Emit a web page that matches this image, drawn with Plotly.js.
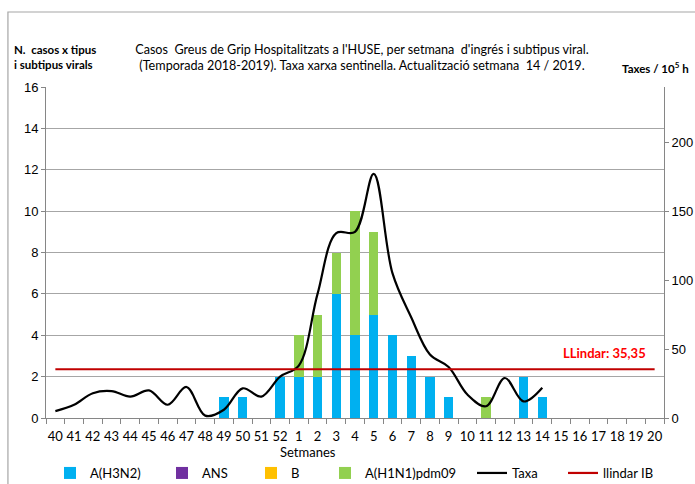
<!DOCTYPE html>
<html>
<head>
<meta charset="utf-8">
<script src="https://cdn.plot.ly/plotly-3.0.1.min.js"></script>
<style>html,body{margin:0;padding:0;background:#fff}#chart{width:695px;height:484px}</style>
</head>
<body>
<div id="chart"></div>
<script>
// ---- data ----
const weeks = ["40","41","42","43","44","45","46","47","48","49","50","51","52",
  "1","2","3","4","5","6","7","8","9","10","11","12","13","14","15","16","17","18","19","20"];
const h3n2 = [0,0,0,0,0,0,0,0,0,1,1,0,2, 2,2,6,4,5,4,3,2,1,0,0,0,2,1,0,0,0,0,0,0];
const ans  = [0,0,0,0,0,0,0,0,0,0,0,0,0, 0,0,0,0,0,0,0,0,0,0,0,0,0,0,0,0,0,0,0,0];
const bVir = [0,0,0,0,0,0,0,0,0,0,0,0,0, 0,0,0,0,0,0,0,0,0,0,0,0,0,0,0,0,0,0,0,0];
const h1n1 = [0,0,0,0,0,0,0,0,0,0,0,0,0, 2,3,2,6,4,0,0,0,0,0,1,0,0,0,0,0,0,0,0,0];
const taxaWeeks = weeks.slice(0, 27);
const taxa = [5,9.6,18,19.5,15.5,20,9.6,22.5,1.7,6,21.5,15.5,30,
  38,90,134,135,177,105,73,46,37,17,8.5,29,12,22];
const llindarValue = 35.35;
const llindar = weeks.map(() => llindarValue);
const seriesNames = ["A(H3N2)","ANS","B","A(H1N1)pdm09","Taxa","llindar IB"];

// ---- styling ----
const NARROW = 'Lato, "Liberation Sans", sans-serif';
const ARIAL = '"Liberation Sans", Arial, sans-serif';
const W = 695, H = 484;
const legX = [90, 202, 291, 365, 512, 603]; // text start px
const legFont = {family: NARROW, size: 13, color: '#000'};
function legendAt(i){
  return {x: (legX[i]-40)/W, xref:'container', y: 1-473/H, yref:'container',
    xanchor:'left', yanchor:'middle', orientation:'h', bgcolor:'rgba(0,0,0,0)',
    borderwidth:0, font: legFont};
}
const legNames = ['legend','legend2','legend3','legend4','legend5','legend6'];

const traces = [
  {type:'bar', name:seriesNames[0], x:weeks, y:h3n2, marker:{color:'#00B0F0'}, legend:legNames[0]},
  {type:'bar', name:seriesNames[1], x:weeks, y:ans, marker:{color:'#7030A0'}, legend:legNames[1]},
  {type:'bar', name:seriesNames[2], x:weeks, y:bVir, marker:{color:'#FFC000'}, legend:legNames[2]},
  {type:'bar', name:seriesNames[3], x:weeks, y:h1n1, marker:{color:'#92D050'}, legend:legNames[3]},
  {type:'scatter', mode:'lines', name:seriesNames[4], x:taxaWeeks, y:taxa, yaxis:'y2',
    line:{color:'#000', width:2.2, shape:'spline', smoothing:1}, legend:legNames[4]},
  {type:'scatter', mode:'lines', name:seriesNames[5], x:weeks, y:llindar, yaxis:'y2',
    line:{color:'#C00000', width:2.2}, legend:legNames[5]}
];

const layout = {
  width: W, height: H,
  margin: {l:46, r:31, t:87, b:66},
  paper_bgcolor:'#fff', plot_bgcolor:'#fff',
  barmode:'stack', bargap:0.5,
  title: {text:"Casos  Greus de Grip Hospitalitzats a l'HUSE, per setmana  d'ingrés i subtipus viral.<br>(Temporada 2018-2019). Taxa xarxa sentinella. Actualització setmana  14 / 2019.",
    x: 362/W, xanchor:'center', xref:'container', y: 1-54/H, yanchor:'middle', yref:'container',
    font:{family: NARROW, size:12.6, color:'#000'}},
  xaxis: {type:'category', categoryorder:'array', categoryarray:weeks, tickangle:0,
    showline:true, linecolor:'#868686', linewidth:1, ticks:'outside', tickson:'boundaries',
    ticklen:5, tickcolor:'#868686', tickfont:{family:NARROW, size:13, color:'#000'},
    ticklabelstandoff:6,
    showgrid:false, zeroline:false, fixedrange:true},
  yaxis: {range:[0,16], dtick:2, tick0:0, showline:true, linecolor:'#868686', ticks:'outside',
    ticklen:4, tickcolor:'#868686', gridcolor:'#a6a6a6', gridwidth:1, zeroline:false,
    tickfont:{family:ARIAL, size:13, color:'#000'}},
  yaxis2: {range:[0,240], dtick:50, tick0:0, overlaying:'y', side:'right', showline:true,
    linecolor:'#868686', ticks:'outside', ticklen:4, tickcolor:'#868686', showgrid:false,
    zeroline:false, tickfont:{family:ARIAL, size:13, color:'#000'}},
  annotations: [
    {text:'Setmanes', xref:'paper', yref:'paper',
      x:(308-46)/617, y:(418-452)/331, xanchor:'center', yanchor:'middle', showarrow:false,
      font:{family:NARROW, size:13, color:'#000'}},
    {text:'N.  casos x tipus<br>i subtipus virals', xref:'paper', yref:'paper',
      x:(12-46)/617, y:(418-57)/331, xanchor:'left', yanchor:'middle', align:'left', showarrow:false,
      font:{family:NARROW, size:11.5, color:'#000', weight:'bold'}},
    {text:'Taxes / 10<sup>5</sup> h', xref:'paper', yref:'paper',
      x:(690-46)/617, y:(418-68)/331, xanchor:'right', yanchor:'middle', showarrow:false,
      font:{family:NARROW, size:11.5, color:'#000', weight:'bold'}},
    {text:'LLindar: 35,35', xref:'paper', yref:'paper',
      x:(604-46)/617, y:(418-353)/331, xanchor:'center', yanchor:'middle', showarrow:false,
      font:{family:NARROW, size:13, color:'#FF0000', weight:'bold'}}
  ],
  shapes: [
    {type:'rect', xref:'paper', yref:'paper', x0:(8-46)/617, x1:(720-46)/617,
      y0:(418-520)/331, y1:(418-12)/331, line:{color:'#a6a6a6', width:1.2}, fillcolor:'rgba(0,0,0,0)', layer:'below'}
  ],
  showlegend:true
};
legNames.forEach((n,i)=>{ layout[n] = legendAt(i); });

Plotly.newPlot('chart', traces, layout, {staticPlot:true, displayModeBar:false});
</script>
</body>
</html>
